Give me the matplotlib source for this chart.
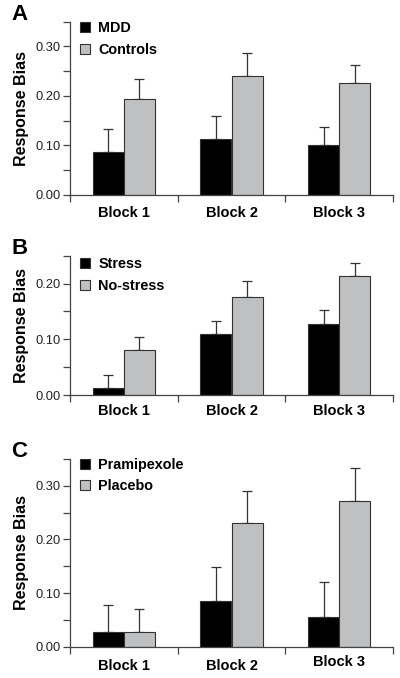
import matplotlib
matplotlib.use("Agg")
import matplotlib.pyplot as plt
from matplotlib.patches import Patch
import numpy as np

plt.rcParams['font.family'] = ['Liberation Sans', 'DejaVu Sans']

blocks = ["Block 1", "Block 2", "Block 3"]

# Panel A
mdd = [0.087, 0.114, 0.100]
mdd_err = [0.046, 0.046, 0.037]
controls = [0.193, 0.240, 0.227]
controls_err = [0.042, 0.047, 0.036]

# Panel B
stress = [0.013, 0.110, 0.128]
stress_err = [0.023, 0.023, 0.024]
nostress = [0.081, 0.176, 0.214]
nostress_err = [0.023, 0.028, 0.022]

# Panel C
pramipexole = [0.028, 0.085, 0.056]
pramipexole_err = [0.049, 0.063, 0.065]
placebo = [0.027, 0.231, 0.272]
placebo_err = [0.044, 0.059, 0.062]

panels = [
    dict(letter="A", s1=("MDD", mdd, mdd_err), s2=("Controls", controls, controls_err),
         ymax=0.35, yticks=[0.0, 0.1, 0.2, 0.3], rect=[0.175, 0.7124, 0.8075, 0.2556]),
    dict(letter="B", s1=("Stress", stress, stress_err), s2=("No-stress", nostress, nostress_err),
         ymax=0.25, yticks=[0.0, 0.1, 0.2], rect=[0.175, 0.4174, 0.8075, 0.2055]),
    dict(letter="C", s1=("Pramipexole", pramipexole, pramipexole_err), s2=("Placebo", placebo, placebo_err),
         ymax=0.35, yticks=[0.0, 0.1, 0.2, 0.3], rect=[0.175, 0.0462, 0.8075, 0.2768]),
]

fig = plt.figure(figsize=(4.0, 6.78), dpi=100)
black = "#000000"
grey = "#bfc0c2"
edge = "#333333"
axcol = "#444444"
w = 0.29

for p in panels:
    ax = fig.add_axes(p["rect"])
    x = np.arange(len(blocks)) + 0.5
    n1, v1, e1 = p["s1"]
    n2, v2, e2 = p["s2"]
    ax.bar(x - w / 2, v1, width=w, color=black, edgecolor=edge, linewidth=0.8, zorder=2)
    ax.bar(x + w / 2, v2, width=w, color=grey, edgecolor=edge, linewidth=0.8, zorder=2)
    ax.errorbar(x - w / 2, v1, yerr=[np.zeros(3), e1], fmt="none", ecolor=edge,
                elinewidth=0.9, capsize=3.5, capthick=0.9, zorder=1)
    ax.errorbar(x + w / 2, v2, yerr=[np.zeros(3), e2], fmt="none", ecolor=edge,
                elinewidth=0.9, capsize=3.5, capthick=0.9, zorder=1)
    ax.set_xlim(0, 3)
    ax.set_ylim(0, p["ymax"])
    for s in ["top", "right"]:
        ax.spines[s].set_visible(False)
    for s in ["left", "bottom"]:
        ax.spines[s].set_color(axcol)
        ax.spines[s].set_linewidth(0.9)
    ax.set_yticks(p["yticks"])
    ax.set_yticklabels([f"{t:.2f}" for t in p["yticks"]], fontsize=9.3, color="#222222")
    ax.set_yticks(np.arange(0.05, p["ymax"] + 0.001, 0.1), minor=True)
    ax.tick_params(axis="y", which="both", length=5, width=0.9, color=axcol, direction="out", pad=2)
    ax.set_xticks([0, 1, 2, 3])
    ax.set_xticklabels([])
    ax.tick_params(axis="x", which="major", length=5, width=0.9, color=axcol, direction="out")
    for i, b in enumerate(blocks):
        dy = -0.065
        if p["letter"] == "C" and i == 2:
            dy = -0.045
        ax.text(x[i], dy, b, transform=ax.get_xaxis_transform(), ha="center", va="top",
                fontsize=10.5, fontweight="bold")
    ax.set_ylabel("Response Bias", fontsize=11.5, fontweight="bold", labelpad=4)
    handles = [Patch(facecolor=black, edgecolor=edge, linewidth=0.8),
               Patch(facecolor=grey, edgecolor=edge, linewidth=0.8)]
    ax.legend(handles, [n1, n2], loc="upper left", bbox_to_anchor=(0.0, 1.06), frameon=False,
              prop=dict(size=10.4, weight="bold"), handlelength=0.7, handleheight=0.7,
              handletextpad=0.55, labelspacing=0.5, borderaxespad=0.3)
    fig.text(0.028, p["rect"][1] + p["rect"][3] + 0.026, p["letter"], fontsize=16,
             fontweight="bold", ha="left", va="top")

fig.savefig("out.png", dpi=100)
